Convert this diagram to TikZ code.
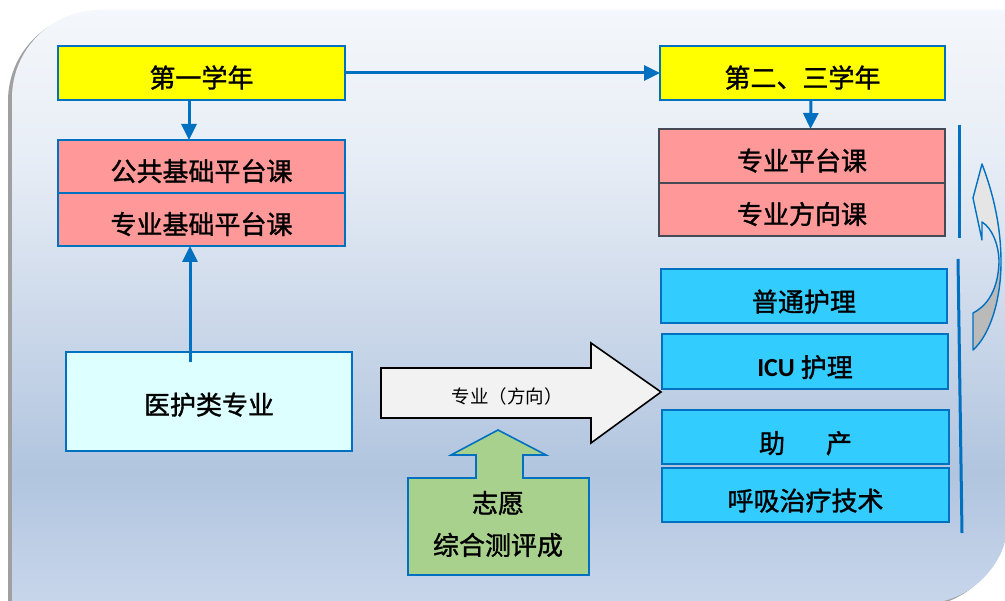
\documentclass[tikz,border=0pt]{standalone}
\usepackage{fontspec}
\setmainfont{Noto Sans CJK SC}
\newfontfamily\cjkb{Noto Sans CJK SC}[FakeBold=1.3]
\newfontfamily\calfont{Carlito}
\usetikzlibrary{arrows.meta}
\definecolor{bblue}{RGB}{0,112,192}
\definecolor{ayellow}{RGB}{255,255,0}
\definecolor{apink}{RGB}{255,153,153}
\definecolor{acyan}{RGB}{51,204,255}
\definecolor{lcyan}{RGB}{221,255,255}
\definecolor{agreen}{RGB}{169,209,142}
\definecolor{darkframe}{RGB}{70,74,86}
\definecolor{bgA}{RGB}{244,247,251}
\definecolor{bgB}{RGB}{232,238,246}
\definecolor{bgC}{RGB}{206,218,235}
\definecolor{bgD}{RGB}{177,197,223}
\definecolor{bgE}{RGB}{200,214,235}
\definecolor{shadowgray}{RGB}{160,160,160}
\pgfdeclareverticalshading{bgshade}{100bp}{color(0bp)=(bgE); color(25bp)=(bgE); color(36bp)=(bgD); color(50bp)=(bgC); color(63bp)=(bgB); color(75bp)=(bgA); color(100bp)=(bgA)}
\tikzset{
  box/.style={draw=bblue, line width=1.8pt, inner sep=0pt, outer sep=0pt,
    font=\cjkb\fontsize{26}{30}\selectfont, text=black, text height=32pt, text depth=3pt},
  ybox/.style={box, fill=ayellow},
  pbox/.style={box, fill=apink},
  pboxd/.style={box, fill=apink, draw=darkframe},
  cbox/.style={box, fill=acyan},
  arr/.style={draw=bblue, line width=3pt, -{Triangle[length=16pt,width=15pt]}},
  vline/.style={draw=bblue, line width=3pt},
  lbl/.style={inner sep=0pt, font=\cjkb\fontsize{26}{30}\selectfont, text=black},
}
\begin{document}
\begin{tikzpicture}[x=1pt,y=-1pt]
\useasboundingbox (0,0) rectangle (1005,601);
% background
\fill[white] (0,0) rectangle (1005,601);
\fill[shadowgray] (8,101) .. controls (8,52.4) and (47.4,13) .. (96,13) -- (1020,13) -- (1005,519) .. controls (1005,567.6) and (965.6,607) .. (917,607) -- (8,607) -- cycle;
\shade[shading=bgshade] (12,98) .. controls (12,49.4) and (51.4,10) .. (100,10) -- (1020,10) -- (1009,516) .. controls (1009,564.6) and (969.6,604) .. (921,604) -- (12,604) -- cycle;

% left column
\node[ybox, minimum width=287pt, minimum height=54pt] (y1) at (201.5,73) {第一学年};
\node[pbox, minimum width=287pt, minimum height=53pt] (p1a) at (201.5,166.5) {公共基础平台课};
\node[pbox, minimum width=287pt, minimum height=53pt] (p1b) at (201.5,219.5) {专业基础平台课};
\node[box, fill=lcyan, minimum width=286pt, minimum height=99pt, text height=29pt] (med) at (209,401.5) {医护类专业};

% right column
\node[ybox, minimum width=285pt, minimum height=54pt] (y2) at (802.5,73) {第二、三学年};
\node[pboxd, minimum width=286pt, minimum height=54pt] (p2a) at (802,156) {专业平台课};
\node[pboxd, minimum width=286pt, minimum height=53pt] (p2b) at (802,209.5) {专业方向课};
\node[cbox, minimum width=286pt, minimum height=54pt, text height=34pt] (c1) at (804,296) {普通护理};
\node[cbox, minimum width=286pt, minimum height=55pt, text height=34pt] (c2) at (805,361.5) {{\calfont\bfseries ICU} 护理};
\node[cbox, minimum width=287pt, minimum height=54pt, text height=35pt] (c3) at (805.5,437) {助\hspace{41pt}产};
\node[cbox, minimum width=287pt, minimum height=54pt, text height=34pt] (c4) at (805.5,495) {呼吸治疗技术};

% connectors
\draw[arr] (y1.east) -- (y2.west);
\draw[arr] ([xshift=-12.5pt]y1.south) -- ([xshift=-12.5pt]p1a.north);
\draw[arr] ([xshift=-19pt,yshift=-10pt]med.north) -- ([xshift=-11.5pt]p1b.south);
\draw[arr] ([xshift=8.5pt]y2.south) -- ([xshift=8.5pt]p2a.north);

% big arrow
\draw[fill=black!5, draw=black, line width=1.6pt, line join=miter]
  (381,368) -- (591,368) -- (591,343) -- (661,392) -- (591,443) -- (591,418) -- (381,418) -- cycle;
\node[inner sep=0pt, text=black, font=\fontsize{18.5}{22}\selectfont] (dir) at (507,396) {专业（方向）};

% green up arrow
\draw[fill=agreen, draw=bblue, line width=1.6pt, line join=miter]
  (408,478) -- (476,478) -- (476,455) -- (451,455) -- (498,430) -- (546,455) -- (523,455) -- (523,478) -- (589,478) -- (589,575) -- (408,575) -- cycle;
\node[lbl] (g1) at (498,503) {志愿};
\node[lbl] (g2) at (498,545) {综合测评成};

% vertical brackets
\draw[vline] (959,125) -- (959,238);
\draw[vline] (958,259) -- (962,533);

% curved arrow
\fill[black!10] (982,164) .. controls (990,185) and (1000,220) .. (1000,262) .. controls (999,245) and (992,228) .. (982,222) -- (982,240) -- (973,198) -- cycle;
\fill[black!27] (1000,262) .. controls (1001,300) and (990,335) .. (973,350) -- (973,313) .. controls (983,308) and (998,295) .. (1000,262) -- cycle;
\draw[bblue, line width=1.4pt, line join=round]
  (982,164) .. controls (990,185) and (1001,220) .. (1001,262) .. controls (1001,300) and (990,335) .. (973,350) -- (973,313) .. controls (983,308) and (998,295) .. (999,262) .. controls (999,245) and (992,228) .. (982,222) -- (982,240) -- (973,198) -- cycle;
\end{tikzpicture}
\end{document}
